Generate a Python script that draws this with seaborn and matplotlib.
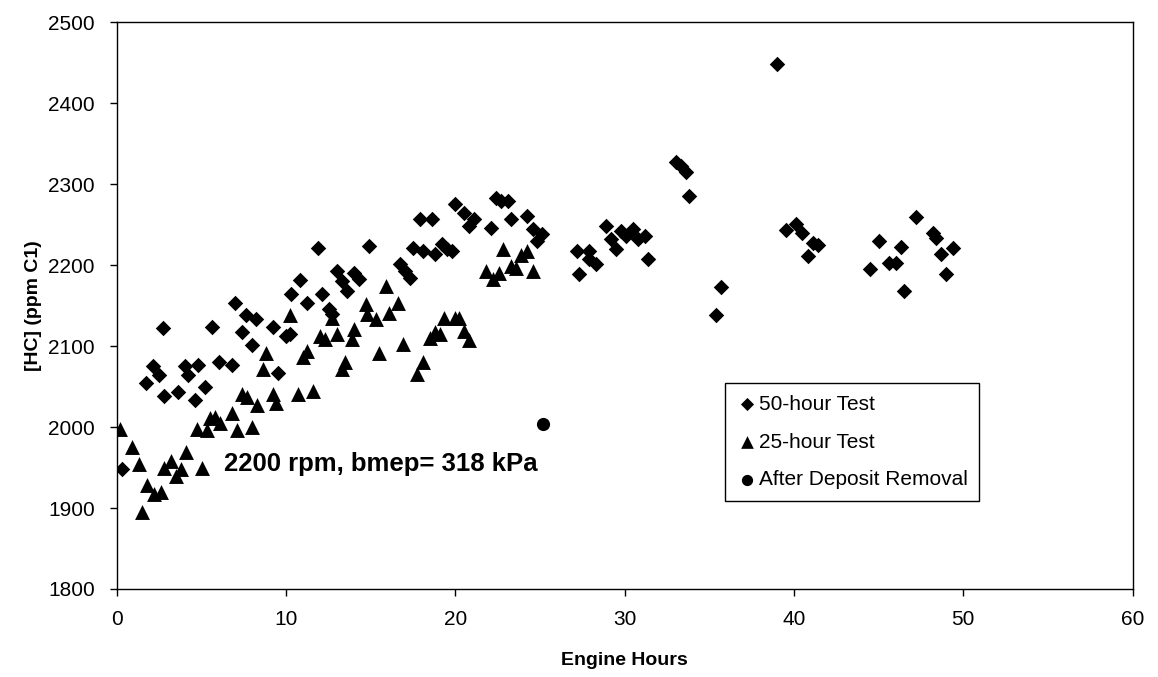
import matplotlib
matplotlib.use('Agg')
import matplotlib.pyplot as plt
import seaborn as sns
import pandas as pd

# 50-hour test (diamonds)
hours_50 = [0.3, 1.7, 2.1, 2.5, 2.8, 2.7, 3.6, 4.0, 4.2, 4.6, 4.8, 5.2, 5.6, 6.0, 6.8,
            7.0, 7.4, 7.6, 8.0, 8.2, 9.2, 9.5, 10.0, 10.2, 10.3, 10.8, 11.2, 11.9, 12.1,
            12.5, 12.7, 13.0, 13.3, 13.6, 14.0, 14.3, 14.9, 16.7, 17.0, 17.3, 17.5, 17.9,
            18.1, 18.6, 18.8, 19.2, 19.5, 19.8, 20.0, 20.5, 20.8, 21.1, 22.1, 22.4, 22.7,
            23.1, 23.3, 24.2, 24.6, 24.8, 25.1, 27.2, 27.3, 27.9, 27.9, 28.3, 28.9, 29.2,
            29.5, 29.8, 30.1, 30.5, 30.8, 31.2, 31.4, 33.0, 33.3, 33.6, 33.8, 35.4, 35.7,
            39.0, 39.5, 40.1, 40.5, 40.8, 41.1, 41.4, 44.5, 45.0, 45.6, 46.0, 46.3, 46.5,
            47.2, 48.2, 48.4, 48.7, 49.0, 49.4]
hc_50 = [1948, 2055, 2076, 2064, 2038, 2123, 2043, 2076, 2064, 2034, 2077, 2049, 2124, 2081, 2077,
         2153, 2117, 2139, 2102, 2134, 2124, 2067, 2113, 2115, 2165, 2182, 2153, 2221, 2165,
         2146, 2140, 2193, 2180, 2168, 2190, 2183, 2224, 2201, 2193, 2184, 2221, 2257,
         2218, 2257, 2214, 2226, 2220, 2218, 2275, 2264, 2248, 2257, 2246, 2283, 2279,
         2279, 2257, 2261, 2245, 2230, 2238, 2217, 2189, 2217, 2208, 2201, 2248, 2232,
         2220, 2242, 2236, 2245, 2232, 2236, 2208, 2328, 2323, 2315, 2286, 2139, 2173,
         2448, 2244, 2251, 2240, 2211, 2227, 2225, 2195, 2230, 2203, 2203, 2223, 2168,
         2259, 2240, 2234, 2214, 2189, 2221]

# 25-hour test (triangles)
hours_25 = [0.2, 0.9, 1.3, 1.5, 1.8, 2.2, 2.6, 2.8, 3.2, 3.5, 3.8, 4.1, 4.7, 5.0, 5.3, 5.5,
            5.8, 6.1, 6.8, 7.1, 7.4, 7.7, 8.0, 8.3, 8.6, 8.8, 9.2, 9.4, 10.2, 10.7, 11.0,
            11.2, 11.6, 12.0, 12.3, 12.7, 13.0, 13.3, 13.5, 13.9, 14.0, 14.7, 14.8, 15.3,
            15.5, 15.9, 16.1, 16.6, 16.9, 17.7, 18.1, 18.5, 18.8, 19.1, 19.3, 20.0, 20.2,
            20.5, 20.8, 21.8, 22.2, 22.6, 22.8, 23.3, 23.6, 23.9, 24.2, 24.6]
hc_25 = [1998, 1975, 1955, 1895, 1929, 1917, 1920, 1950, 1958, 1939, 1948, 1969, 1998, 1950, 1996, 2011,
         2012, 2005, 2017, 1997, 2041, 2037, 2000, 2027, 2072, 2092, 2041, 2030, 2139, 2041, 2086,
         2094, 2044, 2113, 2109, 2135, 2115, 2072, 2080, 2109, 2121, 2152, 2140, 2134,
         2092, 2174, 2141, 2153, 2103, 2066, 2081, 2110, 2117, 2115, 2135, 2135, 2135,
         2119, 2107, 2193, 2183, 2190, 2220, 2199, 2197, 2213, 2218, 2193]

# after deposit removal
hours_removal = [25.2]
hc_removal = [2004]

labels = ['50-hour Test', '25-hour Test', 'After Deposit Removal']

df_50 = pd.DataFrame({'hours': hours_50, 'hc': hc_50})
df_25 = pd.DataFrame({'hours': hours_25, 'hc': hc_25})
df_rm = pd.DataFrame({'hours': hours_removal, 'hc': hc_removal})

sns.set_style('ticks')
plt.rcParams['font.family'] = ['Liberation Sans', 'DejaVu Sans']
for key in ['text.color', 'axes.labelcolor', 'xtick.color', 'ytick.color']:
    plt.rcParams[key] = 'black'

fig = plt.figure(figsize=(11.58, 6.77), dpi=100)
ax = fig.add_axes([0.101, 0.130, 0.877, 0.837])

# plot the three series
sns.scatterplot(data=df_50, x='hours', y='hc', marker='D', color='black', s=62,
                linewidth=0, label=labels[0], ax=ax)
sns.scatterplot(data=df_25, x='hours', y='hc', marker='^', color='black', s=115,
                linewidth=0, label=labels[1], ax=ax)
sns.scatterplot(data=df_rm, x='hours', y='hc', marker='o', color='black', s=90,
                linewidth=0, label=labels[2], ax=ax)

ax.set_xlim(0, 60)
ax.set_ylim(1800, 2500)
ax.set_xticks(range(0, 61, 10))
ax.set_yticks(range(1800, 2501, 100))
ax.tick_params(labelsize=15, length=5, width=1, color='black')
ax.tick_params(axis='y', pad=11)
ax.tick_params(axis='x', pad=10)
for sp in ax.spines.values():
    sp.set_visible(True)
    sp.set_color('black')
    sp.set_linewidth(1)

ax.set_xlabel('Engine Hours', fontsize=14, fontweight='bold', labelpad=17)
ax.set_ylabel('[HC] (ppm C1)', fontsize=14, fontweight='bold', labelpad=4)

ax.text(6.3, 1955, '2200 rpm, bmep= 318 kPa', fontsize=18.5, fontweight='bold',
        va='center', ha='left')

leg = ax.legend(loc='upper left', bbox_to_anchor=(0.599, 0.363), fontsize=15,
                frameon=True, fancybox=False, edgecolor='black', framealpha=1,
                handletextpad=0.05, handlelength=1.0, labelspacing=0.9,
                borderpad=0.55, borderaxespad=0, markerscale=0.85)
leg.get_frame().set_linewidth(1)

fig.savefig('out.png', dpi=100)
